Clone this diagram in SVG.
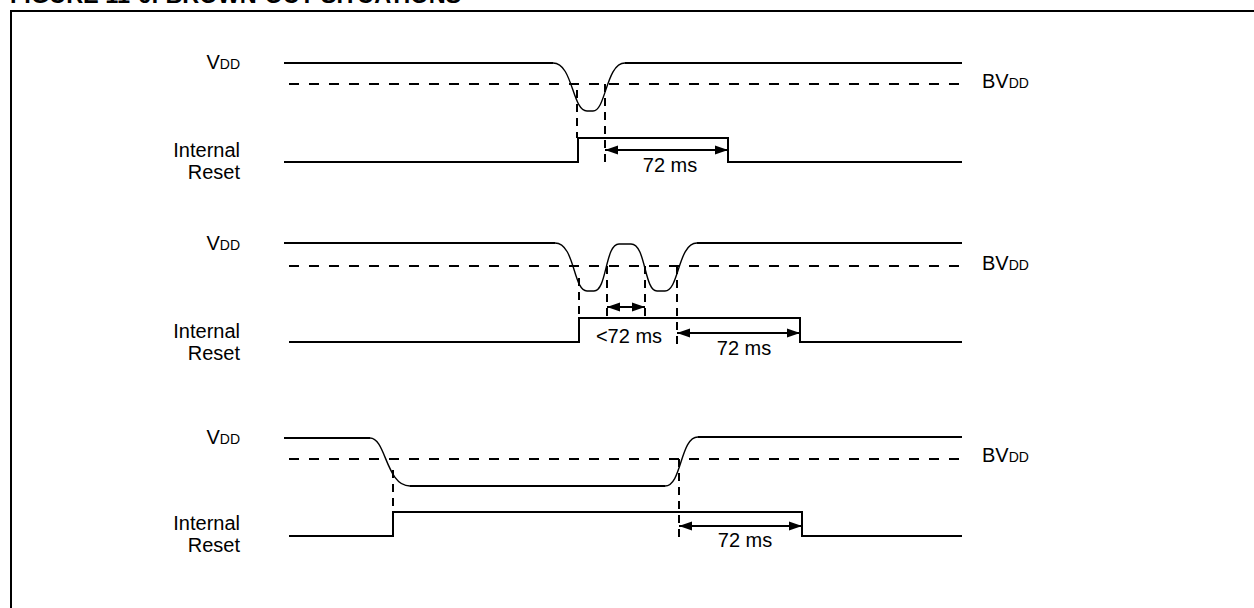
<svg xmlns="http://www.w3.org/2000/svg" width="1254" height="608" viewBox="0 0 1254 608">
  <style>
    text { font-family: "Liberation Sans", Arial, sans-serif; fill: #000; }
    .lbl { font-size: 20px; }
    .sub { font-size: 14px; }
    .title { font-size: 23.5px; font-weight: bold; }
    .sig { fill: none; stroke: #000; stroke-width: 2; }
    .crv { fill: none; stroke: #000; stroke-width: 1.4; }
    .thr { fill: none; stroke: #000; stroke-width: 2; stroke-dasharray: 10 10; }
    .vd { fill: none; stroke: #000; stroke-width: 2; stroke-dasharray: 8 6; }
    .dim { fill: none; stroke: #000; stroke-width: 2; marker-start: url(#ah); marker-end: url(#ah); }
  </style>
  <defs>
    <marker id="ah" viewBox="0 0 13 10" refX="13" refY="5" markerWidth="13" markerHeight="10" markerUnits="userSpaceOnUse" orient="auto-start-reverse">
      <path d="M0,0.5 L13,5 L0,9.5 Z" fill="#000"/>
    </marker>
  </defs>
  <rect width="1254" height="608" fill="#fff"/>
  <text class="title" x="10" y="3">FIGURE 11-6: BROWN-OUT SITUATIONS</text>
  <path d="M11,608 V11 H1254" fill="none" stroke="#000" stroke-width="2"/>

  <g id="panel1">
    <g id="p1-labels">
      <text class="lbl" x="240" y="69" text-anchor="end">V<tspan class="sub">DD</tspan></text>
      <text class="lbl" x="240" y="157" text-anchor="end">Internal</text>
      <text class="lbl" x="240" y="179" text-anchor="end">Reset</text>
      <text class="lbl" x="982" y="88">BV<tspan class="sub">DD</tspan></text>
    </g>
    <g id="p1-vdd">
      <path class="sig" d="M284,63 H553 M625,63 H962"/>
      <path class="crv" d="M553,63 C573,63 572,111 587,111 L593,111 C606,111 606,63 625,63"/>
      <path class="thr" d="M289,84 H962"/>
    </g>
    <g id="p1-reset">
      <path class="sig" d="M284,162 H578 V138 H728 V162 H962"/>
    </g>
  </g>

  <g id="panel2">
    <g id="p2-labels">
      <text class="lbl" x="240" y="250" text-anchor="end">V<tspan class="sub">DD</tspan></text>
      <text class="lbl" x="240" y="338" text-anchor="end">Internal</text>
      <text class="lbl" x="240" y="360" text-anchor="end">Reset</text>
      <text class="lbl" x="982" y="270">BV<tspan class="sub">DD</tspan></text>
    </g>
    <g id="p2-vdd">
      <path class="sig" d="M284,243 H555 M697,243 H962"/>
      <path class="crv" d="M555,243 C575,243 573,291 587,291 L594,291 C607,291 605,244 619,244 L631,244 C646,244 644,291 657,291 L665,291 C679,291 678,243 697,243"/>
      <path class="thr" d="M289,266 H962"/>
    </g>
    <g id="p2-reset">
      <path class="sig" d="M289,342 H579 V318 H800 V342 H962"/>
    </g>
  </g>

  <g id="panel3">
    <g id="p3-labels">
      <text class="lbl" x="240" y="444" text-anchor="end">V<tspan class="sub">DD</tspan></text>
      <text class="lbl" x="240" y="530" text-anchor="end">Internal</text>
      <text class="lbl" x="240" y="552" text-anchor="end">Reset</text>
      <text class="lbl" x="982" y="462">BV<tspan class="sub">DD</tspan></text>
    </g>
    <g id="p3-vdd">
      <path class="sig" d="M284,438 H370 M410,486 H665 M698,437 H962"/>
      <path class="crv" d="M370,438 C386,438 386,486 410,486 M665,486 C682,486 680,437 698,437"/>
      <path class="thr" d="M289,459 H962"/>
    </g>
    <g id="p3-reset">
      <path class="sig" d="M289,536 H393 V512 H802 V536 H962"/>
    </g>
  </g>

  <g id="connectors">
    <path class="vd" d="M577,90 V138"/>
    <path class="vd" d="M605,84 V166"/>
    <path class="dim" d="M605,150 H728"/>
    <path class="vd" d="M579,278 V318"/>
    <path class="vd" d="M607,266 V318"/>
    <path class="vd" d="M645,266 V318"/>
    <path class="vd" d="M677,266 V346"/>
    <path class="dim" d="M607,307 H645"/>
    <path class="dim" d="M677,333 H800"/>
    <path class="vd" d="M393,470 V512"/>
    <path class="vd" d="M679,459 V540"/>
    <path class="dim" d="M679,526 H802"/>
  </g>

  <g id="dim-labels">
    <text class="lbl" x="670" y="172" text-anchor="middle">72 ms</text>
    <text class="lbl" x="629" y="343" text-anchor="middle">&lt;72 ms</text>
    <text class="lbl" x="744" y="355" text-anchor="middle">72 ms</text>
    <text class="lbl" x="745" y="547" text-anchor="middle">72 ms</text>
  </g>
</svg>
